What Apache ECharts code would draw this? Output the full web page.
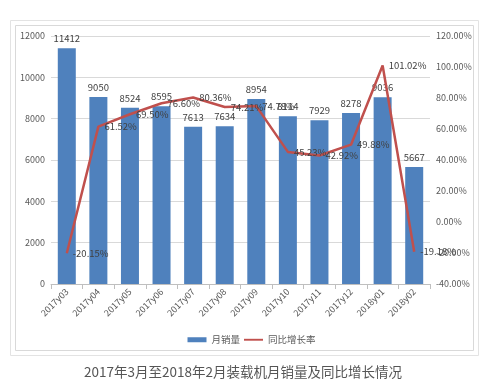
<!DOCTYPE html>
<html>
<head>
<meta charset="utf-8">
<script src="https://cdn.jsdelivr.net/npm/echarts@6/dist/echarts.min.js"></script>
<style>
html,body{margin:0;padding:0;background:#fff;}
#c{width:503px;height:388px;}
</style>
</head>
<body>
<div id="c"></div>
<script>
const categories = ['2017y03','2017y04','2017y05','2017y06','2017y07','2017y08','2017y09','2017y10','2017y11','2017y12','2018y01','2018y02'];
const salesValues = [11412, 9050, 8524, 8595, 7613, 7634, 8954, 8114, 7929, 8278, 9036, 5667];
const growthValues = [-20.15, 61.52, 69.50, 76.60, 80.36, 74.21, 74.78, 45.23, 42.92, 49.88, 101.02, -19.18];
const seriesNames = ['月销量', '同比增长率'];
const captionText = '2017年3月至2018年2月装载机月销量及同比增长情况';

const chart = echarts.init(document.getElementById('c'), null, {renderer: 'canvas'});
const font = '"Noto Sans CJK SC", "Noto Sans", sans-serif';
chart.setOption({
  backgroundColor: '#ffffff',
  animation: false,
  textStyle: {fontFamily: font},
  graphic: [
    {type: 'rect', shape: {x: 10.5, y: 20.5, width: 468, height: 335}, style: {fill: 'none', stroke: '#e3e3e3', lineWidth: 1}, z: -10},
    {type: 'rect', shape: {x: 15.5, y: 25.5, width: 458, height: 325}, style: {fill: 'none', stroke: '#d9d9d9', lineWidth: 1}, z: -10},
    {type: 'text', left: 84, top: 365, style: {text: captionText, fill: '#555555', font: '13.5px "Noto Sans CJK SC", sans-serif'}}
  ],
  grid: {left: 51, right: 73, top: 36, bottom: 104, containLabel: false},
  legend: {
    top: 330, left: 'center',
    itemWidth: 19, itemHeight: 5, itemGap: 4,
    textStyle: {fontSize: 9.5, color: '#595959', fontFamily: font},
    data: [
      {name: seriesNames[0], icon: 'rect'},
      {name: seriesNames[1], icon: 'path://M0,0H20V2H0Z', itemStyle: {color: '#c0504d'}}
    ]
  },
  xAxis: {
    type: 'category',
    data: categories,
    axisLine: {lineStyle: {color: '#bfbfbf'}},
    axisTick: {show: true, length: 5, lineStyle: {color: '#bfbfbf'}},
    axisLabel: {rotate: 45, fontSize: 9, color: '#595959', margin: 6, interval: 0}
  },
  yAxis: [
    {
      type: 'value', min: 0, max: 12000, interval: 2000,
      axisLine: {show: false}, axisTick: {show: false},
      axisLabel: {fontSize: 9, color: '#595959', margin: 6, formatter: v => String(v)},
      splitLine: {lineStyle: {color: '#d9d9d9'}}
    },
    {
      type: 'value', min: -40, max: 120, interval: 20,
      axisLine: {show: false}, axisTick: {show: false},
      axisLabel: {fontSize: 9, color: '#595959', margin: 6, formatter: v => v.toFixed(2) + '%'},
      splitLine: {show: false}
    }
  ],
  series: [
    {
      name: seriesNames[0], type: 'bar', data: salesValues, barWidth: '57%',
      itemStyle: {color: '#4f81bd'},
      label: {show: true, position: 'top', distance: 5, fontSize: 9.5, color: '#404040'}
    },
    {
      name: seriesNames[1], type: 'line', yAxisIndex: 1, data: growthValues,
      symbol: 'circle', symbolSize: 0, showSymbol: true,
      lineStyle: {color: '#c0504d', width: 2.5}, itemStyle: {color: '#c0504d'},
      label: {show: true, position: 'right', distance: 6, fontSize: 9.5, color: '#404040', formatter: p => p.value.toFixed(2) + '%'},
      z: 3
    }
  ]
});
</script>
</body>
</html>
